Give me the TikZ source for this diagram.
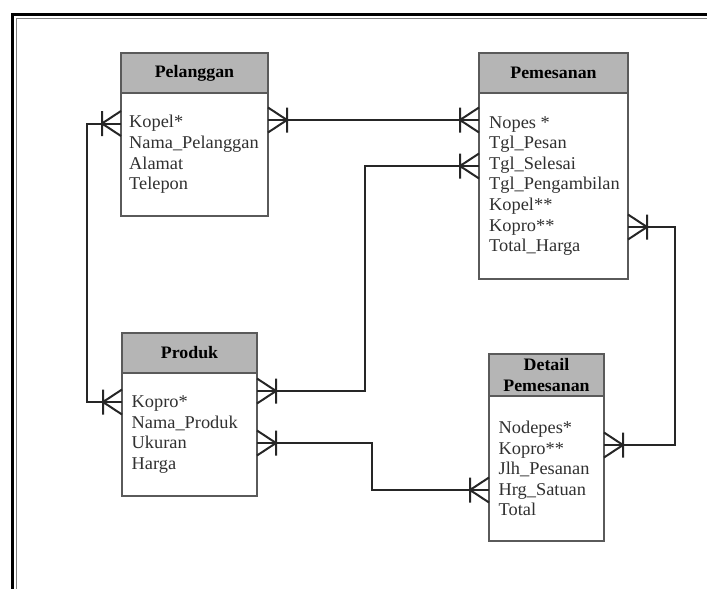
\documentclass[tikz,border=0pt]{standalone}
\usepackage{fontspec}
\setmainfont{Liberation Serif}[FakeStretch=1.02]
\usepackage{xcolor}
\usetikzlibrary{arrows.meta, positioning}

\definecolor{headgray}{HTML}{B5B5B5}
\definecolor{boxline}{HTML}{5A5A5A}
\definecolor{relline}{HTML}{262626}
\definecolor{itemtext}{HTML}{303030}

% crow's foot with one bar (one-or-many)
\pgfdeclarearrow{
  name = Crow,
  parameters = {\the\pgfarrowlength,\the\pgfarrowwidth},
  setup code = {
    \pgfarrowssettipend{0pt}
    \pgfarrowssetlineend{0pt}
    \pgfarrowssetbackend{-\pgfarrowlength}
    \pgfarrowssetvisualbackend{-\pgfarrowlength}
    \pgfarrowshullpoint{0pt}{.5\pgfarrowwidth}
    \pgfarrowshullpoint{0pt}{-.5\pgfarrowwidth}
    \pgfarrowshullpoint{-\pgfarrowlength}{.5\pgfarrowwidth}
    \pgfarrowshullpoint{-\pgfarrowlength}{-.5\pgfarrowwidth}
    \pgfarrowssavethe\pgfarrowlength
    \pgfarrowssavethe\pgfarrowwidth
  },
  drawing code = {
    \pgfsetdash{}{0pt}
    \pgfsetroundjoin
    \pgfpathmoveto{\pgfpoint{0pt}{.5\pgfarrowwidth}}
    \pgfpathlineto{\pgfpoint{-\pgfarrowlength}{0pt}}
    \pgfpathlineto{\pgfpoint{0pt}{-.5\pgfarrowwidth}}
    \pgfpathmoveto{\pgfpoint{-\pgfarrowlength}{.5\pgfarrowwidth}}
    \pgfpathlineto{\pgfpoint{-\pgfarrowlength}{-.5\pgfarrowwidth}}
    \pgfusepathqstroke
  },
  defaults = {length=19pt, width=25pt}
}

\begin{document}
\begin{tikzpicture}[
      x=1pt, y=-1pt,
      head/.style={rectangle, draw=boxline, fill=headgray, line width=1.3pt,
                   inner sep=0pt, outer sep=0pt, anchor=north west,
                   font=\fontsize{17.5}{21}\selectfont\bfseries, align=center},
      body/.style={rectangle, draw=boxline, fill=white, line width=1.3pt,
                   inner sep=0pt, outer sep=0pt},
      items/.style={anchor=west, align=left, inner sep=0pt, text=itemtext,
                    font=\fontsize{18}{20.6}\selectfont},
      rel/.style={{Crow}-{Crow}, line width=2pt, draw=relline}
    ]
    \useasboundingbox (0,0) rectangle (707,589);
    % frame
    \draw[line width=3pt] (12.5,589) -- (12.5,14.5) -- (707,14.5);
    \draw[line width=1.2pt, gray] (16.7,589) -- (16.7,18.7) -- (707,18.7);

    % entities
    \node[head, minimum width=147pt, minimum height=40pt] (pel) at (121,53) {Pelanggan};
    \node[body, minimum width=147pt, minimum height=123pt, below=0pt of pel] (pelb) {};
    \node[items] (pelt) at ([xshift=8pt]pelb.west)
      {Kopel*\\Nama\_Pelanggan\\Alamat\\Telepon};

    \node[head, minimum width=149pt, minimum height=40pt] (pes) at (479,53) {Pemesanan};
    \node[body, minimum width=149pt, minimum height=186pt, below=0pt of pes] (pesb) {};
    \node[items] (pest) at ([xshift=10pt]pesb.west)
      {Nopes *\\Tgl\_Pesan\\Tgl\_Selesai\\Tgl\_Pengambilan\\Kopel**\\Kopro**\\Total\_Harga};

    \node[head, minimum width=135pt, minimum height=40pt] (pro) at (122,333) {Produk};
    \node[body, minimum width=135pt, minimum height=123pt, below=0pt of pro] (prob) {};
    \node[items] (prot) at ([xshift=9.5pt]prob.west)
      {Kopro*\\Nama\_Produk\\Ukuran\\Harga};

    \node[head, minimum width=115pt, minimum height=42pt] (det) at (489,354) {Detail\\Pemesanan};
    \node[body, minimum width=115pt, minimum height=145pt, below=0pt of det] (detb) {};
    \node[items] (dett) at ([xshift=9.5pt]detb.west)
      {Nodepes*\\Kopro**\\Jlh\_Pesanan\\Hrg\_Satuan\\Total};

    % relations
    \draw[rel] (pelb.east |- 0,120) -- (pesb.west |- 0,120);
    \draw[rel] (pesb.west |- 0,166) -| (365,280) |- (prob.east |- 0,391);
    \draw[rel] (prob.east |- 0,443) -| (372,465) |- (detb.west |- 0,490);
    \draw[rel] (pesb.east |- 0,227) -| (675,336) |- (detb.east |- 0,445);
    \draw[rel] (pelb.west |- 0,123.5) -| (87,260) |- (prob.west |- 0,402);
  \end{tikzpicture}
\end{document}
